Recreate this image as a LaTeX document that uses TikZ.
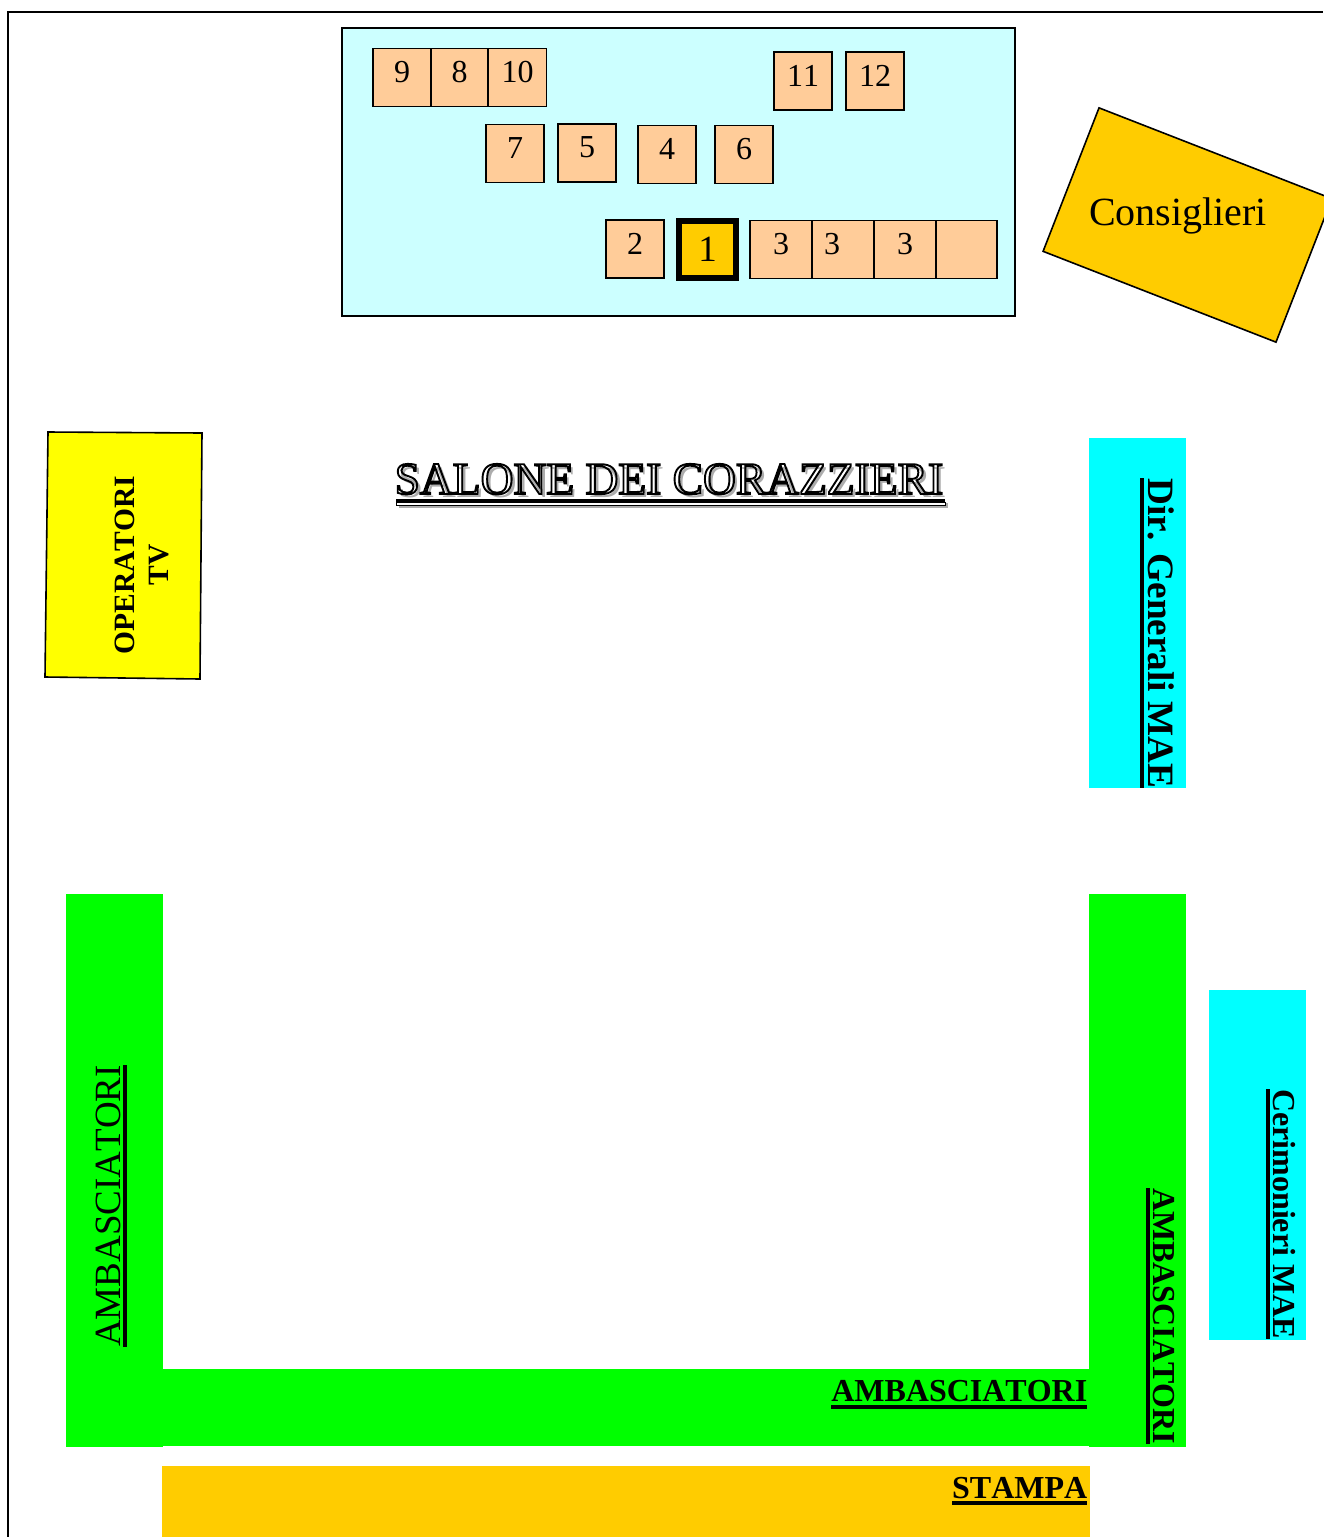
\documentclass[tikz,border=0pt]{standalone}
\usepackage{fontspec}
\setmainfont[Kerning=Off]{Liberation Serif}
\usepackage{tikz}
\definecolor{panelcyan}{HTML}{CCFFFF}
\definecolor{seatpeach}{HTML}{FFCC99}
\definecolor{goldfill}{HTML}{FFCC00}
\definecolor{purecyan}{HTML}{00FFFF}
\definecolor{pureyellow}{HTML}{FFFF00}
\definecolor{puregreen}{HTML}{00FF00}
\newcommand{\fs}[1]{\fontsize{#1}{#1}\selectfont}
\newcommand{\ulabel}[1]{\vtop{\hbox{#1}\kern3pt\hrule height 4pt}}
\tikzset{
  seatbox/.style   = {draw=black, line width=1.4pt, fill=seatpeach, minimum width=58pt,
                      minimum height=58pt, inner sep=0pt, text depth=11pt, font=\fs{32}},
  zonebox/.style   = {minimum width=97pt, inner sep=0pt},
  tag/.style       = {inner sep=0pt, text=black},
  tagbold/.style   = {tag, font=\fs{32}\bfseries}
}
\begin{document}
\begin{tikzpicture}[x=1pt,y=-1pt]
  \useasboundingbox (0,0) rectangle (1323,1537);
  % --- room frame
  \draw[line width=2pt] (8,1537) -- (8,12) -- (1323,12);
  % --- top: presidency table
  \node[draw=black, line width=1.8pt, fill=panelcyan, minimum width=673pt, minimum height=288pt,
        inner sep=0pt] (panel) at (678.5,172) {};
  \foreach \seatname/\x/\y/\seatw/\txt in {
      nine/402/77.5/58/9, eight/459.5/77.5/57/8, ten/517.5/77.5/58/10,
      eleven/803/81/58/11, twelve/875/81/58/12,
      seven/515/153.5/58/7, five/587/153/58/5, four/667/154.5/58/4, six/744/154.5/58/6,
      two/635/249/58/2, threea/781/249.5/62/3, threeb/843/249.5/62/3\kern22pt\null,
      threec/905/249.5/62/3, blank/966.5/249.5/61/{}}
    \node[seatbox, minimum width=\seatw pt] (seat\seatname) at (\x,\y) {\txt};
  \node[draw=black, line width=6pt, fill=goldfill, minimum width=57pt, minimum height=57pt,
        inner sep=0pt, font=\fs{37}] (seatone) at (707.5,249.5) {1};
  % --- counsellors, turned
  \node[draw=black, line width=1.6pt, fill=goldfill, minimum width=250pt, minimum height=154pt,
        rotate=-21.3] (consbox) at (1187.5,225) {};
  \node[tag, font=\fs{40}] (conslabel) at (1178,216) {Consiglieri};
  % --- tv crew
  \draw[line width=1.6pt, fill=pureyellow] (48,432) -- (202,433) -- (200,679) -- (45,677) -- cycle;
  \node[tag, font=\fs{29.5}\bfseries, rotate=90, align=center] (tvlabel) at (142,565) {OPERATORI\\[5pt]TV};
  % --- hall name: shadow first, then outlined letters
  \node[inner sep=0pt, anchor=base west, text=gray!65, font=\fs{45.5}] (titleshadow) at (398,497.5)
       {SALONE DEI CORAZZIERI};
  \fill[gray!65] (399,503) rectangle (948,507.5);
  \node[inner sep=0pt, anchor=base west, font=\fs{45.5}] (title) at (394.5,494)
       {\special{pdf:code q 1 Tr 1.9 w 0 0 0 RG 1 1 1 rg}SALONE DEI CORAZZIERI\special{pdf:code Q}};
  \fill[black] (395.5,498.5) rectangle (945,502);
  \draw[draw=black, line width=0.8pt, fill=white] (396.5,502) rectangle (945,505);
  % --- right: ministry staff
  \node[fill=purecyan, zonebox, minimum height=350pt] (dirbox) at (1137.5,613) {};
  \node[tag, rotate=-90, anchor=base west, font=\fs{37.2}\bfseries] (dirlabel) at (1148,478)
       {\ulabel{Dir. Generali MAE}};
  \node[fill=purecyan, zonebox, minimum height=350pt] (cerbox) at (1257.5,1165) {};
  \node[tagbold, rotate=-90, anchor=base west] (cerlabel) at (1273,1089)
       {\ulabel{Cerimonieri MAE}};
  % --- ambassadors, three sides
  \node[fill=puregreen, zonebox, minimum height=553pt] (ambleft) at (114.5,1170.5) {};
  \node[fill=puregreen, zonebox, minimum width=926pt, minimum height=77pt] (ambbottom) at (626,1407.5) {};
  \node[fill=puregreen, zonebox, minimum height=553pt] (ambright) at (1137.5,1170.5) {};
  \node[tag, rotate=90, anchor=base west, font=\fs{37}] (ambleftlabel) at (120,1347)
       {\ulabel{AMBASCIATORI}};
  \node[tagbold, anchor=base east] (ambbottomlabel) at (1087.5,1401.5) {\ulabel{AMBASCIATORI}};
  \node[tagbold, rotate=-90, anchor=base west] (ambrightlabel) at (1153,1188)
       {\ulabel{AMBASCIATORI}};
  % --- press
  \node[fill=goldfill, inner sep=0pt, minimum width=928pt, minimum height=71pt] (pressbox) at (626,1501.5) {};
  \node[tagbold, anchor=base east] (presslabel) at (1087.5,1498) {\ulabel{STAMPA}};
\end{tikzpicture}
\end{document}
